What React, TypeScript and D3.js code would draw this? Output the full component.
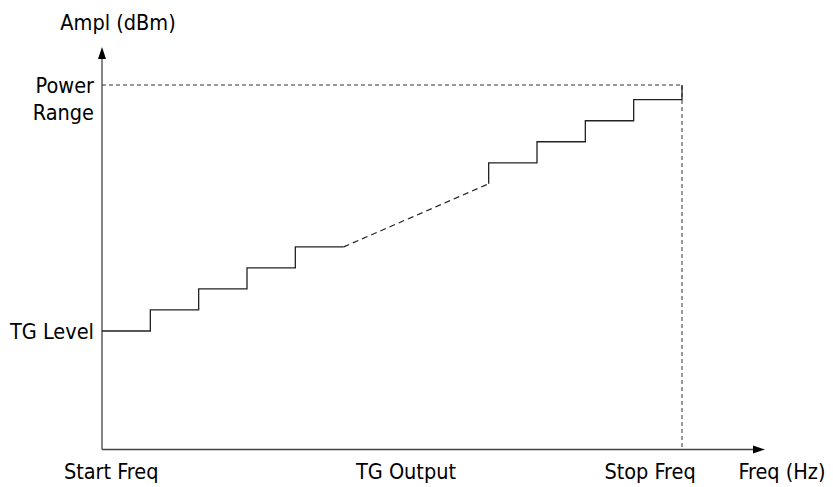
import React from "react";
import * as d3 from "d3";

// Staircase sweep: [freq index, level index]
const stepsLow: [number, number][] = [
  [0, 0], [1, 0], [1, 1], [2, 1], [2, 2], [3, 2], [3, 3], [4, 3], [4, 4], [5, 4],
];
const gapDashed: [number, number][] = [[5, 4], [8, 7]];
const stepsHigh: [number, number][] = [
  [8, 7], [8, 8], [9, 8], [9, 9], [10, 9], [10, 10], [11, 10], [11, 11], [12, 11], [12, 11.7],
];
const powerRangeLevel = 11.7;
const tgLevel = 0;
const startFreq = 0;
const stopFreq = 12;
const xTickLabels = ["Start Freq", "TG Output", "Stop Freq"];
const xTickPositions = [0.19, 6.29, 11.34];
const xAxisTitle = "Freq (Hz)";
const yAxisTitle = "Ampl (dBm)";

const W = 833, H = 487;
const FONT = "'DejaVu Sans Condensed', 'DejaVu Sans', sans-serif";

export default function App() {
  const x = d3.scaleLinear().domain([0, 12]).range([102, 682]);
  const y = d3.scaleLinear().domain([0, 11.7]).range([331, 85]);
  const line = d3.line<[number, number]>().x(d => x(d[0])).y(d => y(d[1]));
  const yBottom = 449.5;
  const xEnd = 765;
  const yTop = 47;
  const axisColor = "#444";
  const x0 = x(startFreq);
  return (
    <svg width={W} height={H} style={{ position: "absolute", left: 0, top: 0, background: "#fff" }}>
      <g fontFamily={FONT} fontSize={21.5} fill="#000">
        {/* axes */}
        <line x1={x0} y1={yBottom} x2={xEnd - 8} y2={yBottom} stroke={axisColor} strokeWidth={1.3} />
        <path d={`M${xEnd},${yBottom} L${xEnd - 12},${yBottom - 4} L${xEnd - 12},${yBottom + 4} Z`} fill="#000" />
        <line x1={x0} y1={yBottom} x2={x0} y2={yTop + 8} stroke={axisColor} strokeWidth={1.3} />
        <path d={`M${x0},${yTop} L${x0 - 4},${yTop + 12} L${x0 + 4},${yTop + 12} Z`} fill="#000" />

        {/* power range dashed box */}
        <path d={`M${x0},${y(powerRangeLevel)} H${x(stopFreq)} V${yBottom}`} fill="none" stroke="#333" strokeWidth={1} strokeDasharray="4,3" />

        {/* staircase */}
        <path d={line(stepsLow) || ""} fill="none" stroke="#222" strokeWidth={1.3} />
        <path d={line(gapDashed) || ""} fill="none" stroke="#222" strokeWidth={1.2} strokeDasharray="6,4" />
        <path d={line(stepsHigh) || ""} fill="none" stroke="#222" strokeWidth={1.3} />

        {/* labels */}
        <text x={118} y={30} textAnchor="middle">{yAxisTitle}</text>
        <text x={94} y={93} textAnchor="end">Power</text>
        <text x={94} y={120} textAnchor="end">Range</text>
        <text x={94} y={y(tgLevel) + 8} textAnchor="end">TG Level</text>
        {xTickLabels.map((t, i) => (
          <text key={t} x={x(xTickPositions[i])} y={479} textAnchor="middle">{t}</text>
        ))}
        <text x={782} y={479} textAnchor="middle">{xAxisTitle}</text>
      </g>
    </svg>
  );
}
